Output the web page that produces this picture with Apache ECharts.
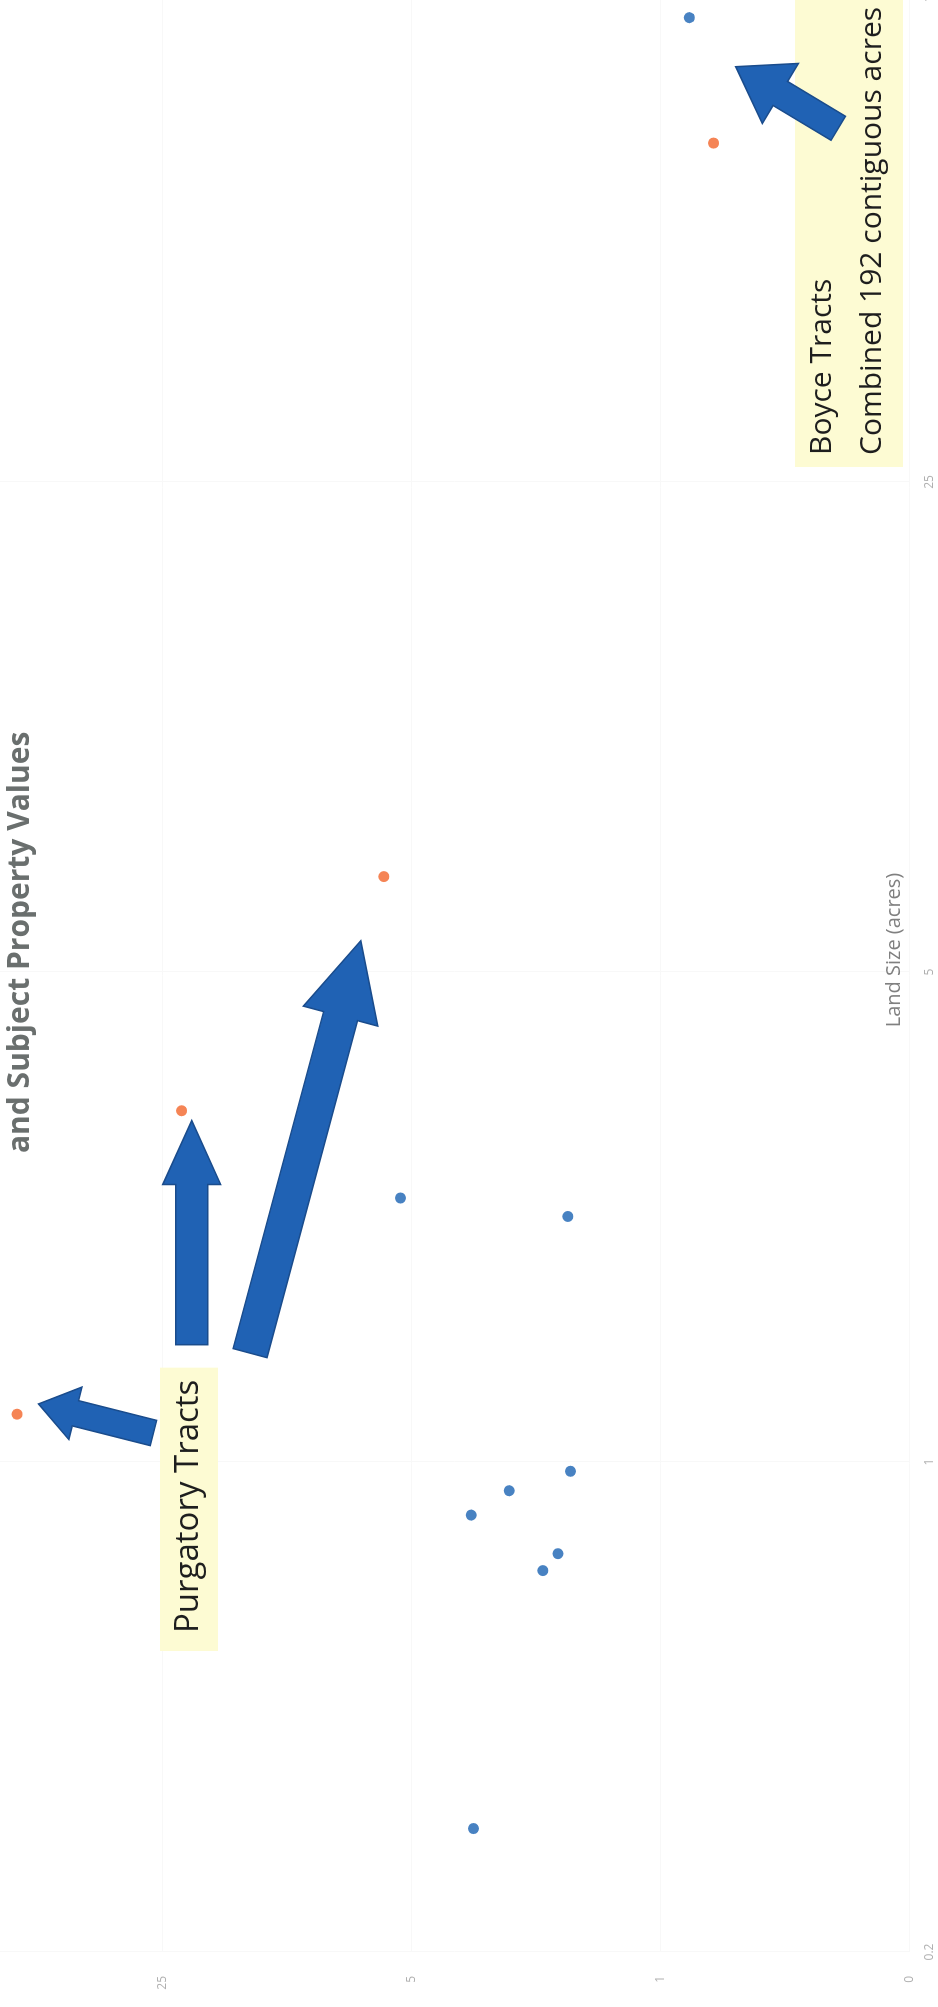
<!DOCTYPE html>
<html>
<head>
<meta charset="utf-8">
<script src="https://cdn.jsdelivr.net/npm/echarts@6/dist/echarts.min.js"></script>
<style>
html,body{margin:0;padding:0;background:#fff;overflow:hidden;width:938px;height:2007px;}
#chart{position:absolute;left:0;top:0;width:2007px;height:938px;transform-origin:0 0;transform:translateY(2007px) rotate(-90deg);}
</style>
</head>
<body>
<div id="chart"></div>
<script>
// ---- data ----
var titleText = 'and Subject Property Values';
var xAxisName = 'Land Size (acres)';
var seriesNames = ['Sales (San Juan County)', 'Sales (La Plata County Purgatory area)'];
var xTicks = [0.2, 1, 5, 25, 125];
var yTicks = [0.2, 1, 5, 25, 125];
var xTickLabels = ['0.2', '1', '5', '25', '125'];
var yTickLabels = ['0', '1', '5', '25', '125'];
// [land size (acres), value]
var sanJuanSales = [
  [114.9, 0.83],
  [0.30, 3.35],
  [0.84, 3.40],
  [0.91, 2.66],
  [0.70, 2.14],
  [0.74, 1.94],
  [0.97, 1.79],
  [2.24, 1.82],
  [2.38, 5.37]
];
var laPlataSales = [
  [1.17, 64.0],
  [3.17, 22.1],
  [6.84, 5.98],
  [76.1, 0.71]
];
// annotation arrows: from / to in data coordinates
var arrowFrom = [[1.10, 26.5], [1.47, 20.7], [1.43, 14.2], [79.9, 0.317]];
var arrowTo   = [[1.21, 55.7], [3.07, 20.7], [5.54, 6.94], [97.8, 0.615]];
var annotationTexts = ['Purgatory Tracts', 'Boyce Tracts\nCombined 192 contiguous acres'];

// ---- chart ----
var chart = echarts.init(document.getElementById('chart'), null, {width: 2007, height: 938});
var blue = '#1a63b3', orange = '#f2652a';
function fmt(ticks, labels) {
  return function (v) {
    for (var i = 0; i < ticks.length; i++) {
      if (Math.abs(v - ticks[i]) / ticks[i] < 1e-6) return labels[i];
    }
    return '';
  };
}
chart.setOption({
  animation: false,
  backgroundColor: '#fff',
  title: {
    text: titleText,
    left: 849, top: 0,
    textStyle: {fontFamily: 'Open Sans', fontSize: 30, fontWeight: 'bold', color: '#6a6f6e'}
  },
  legend: {
    orient: 'vertical', left: 1803, top: 796, z: 2,
    itemWidth: 8, itemHeight: 8, itemGap: 22, icon: 'circle',
    textStyle: {fontFamily: 'Open Sans', fontSize: 13, color: '#8a8a8a'},
    data: seriesNames
  },
  grid: {left: 55, top: -86.5, width: 1960, height: 996, outerBoundsMode: 'none', containLabel: false},
  xAxis: {
    type: 'log', logBase: 5, min: 0.2, max: 125,
    name: xAxisName, nameLocation: 'middle', nameGap: -25,
    nameTextStyle: {fontFamily: 'Open Sans', fontSize: 20, color: '#808080', padding: [0, 0, 0, 44]},
    axisLine: {show: false}, axisTick: {show: false},
    axisLabel: {formatter: fmt(xTicks, xTickLabels), fontFamily: 'Open Sans', fontSize: 12, color: '#b0b0b0', margin: 14, showMaxLabel: true},
    splitLine: {show: true, lineStyle: {color: '#f8f8f8', width: 1}}
  },
  yAxis: {
    type: 'log', logBase: 5, min: 0.2, max: 125,
    axisLine: {show: false}, axisTick: {show: false},
    axisLabel: {formatter: fmt(yTicks, yTickLabels), fontFamily: 'Open Sans', fontSize: 12, color: '#b0b0b0', margin: 24},
    splitLine: {show: true, lineStyle: {color: '#f8f8f8', width: 1}}
  },
  series: [
    {name: seriesNames[0], type: 'scatter', data: sanJuanSales, symbolSize: 11, itemStyle: {color: blue}},
    {name: seriesNames[1], type: 'scatter', data: laPlataSales, symbolSize: 11, itemStyle: {color: orange}}
  ]
});

// arrows & labelled boxes (annotations)
var arrowShape = [[26, 54, 38], [32, 58, 64], [35, 77, 78], [28, 70, 52]]; // shaft, head width, head length
function arrowPoints(p0, p1, sw, hw, hl) {
  var dx = p1[0] - p0[0], dy = p1[1] - p0[1];
  var L = Math.sqrt(dx * dx + dy * dy);
  var ux = dx / L, uy = dy / L, nx = -uy, ny = ux;
  var bx = p1[0] - ux * hl, by = p1[1] - uy * hl;
  return [
    [p0[0] + nx * sw / 2, p0[1] + ny * sw / 2],
    [bx + nx * sw / 2, by + ny * sw / 2],
    [bx + nx * hw / 2, by + ny * hw / 2],
    [p1[0], p1[1]],
    [bx - nx * hw / 2, by - ny * hw / 2],
    [bx - nx * sw / 2, by - ny * sw / 2],
    [p0[0] - nx * sw / 2, p0[1] - ny * sw / 2]
  ];
}
var graphics = [];
graphics.push({
  type: 'text', z: 11, left: 356, top: 160,
  style: {text: annotationTexts[0], fontFamily: 'Open Sans', fontSize: 33, fill: '#1e1e1e',
    backgroundColor: '#fdfbd3', padding: [6, 12, 6, 18], lineHeight: 46}
});
graphics.push({
  type: 'text', z: 11, left: 1540, top: 795,
  style: {text: annotationTexts[1], fontFamily: 'Open Sans', fontSize: 30, fill: '#1e1e1e',
    backgroundColor: '#fdfbd3', padding: [2, 10, 6, 12], lineHeight: 50}
});
for (var i = 0; i < arrowFrom.length; i++) {
  var a = chart.convertToPixel({xAxisIndex: 0, yAxisIndex: 0}, arrowFrom[i]);
  var b = chart.convertToPixel({xAxisIndex: 0, yAxisIndex: 0}, arrowTo[i]);
  graphics.push({
    type: 'polygon', z: 12,
    shape: {points: arrowPoints(a, b, arrowShape[i][0], arrowShape[i][1], arrowShape[i][2])},
    style: {fill: '#2062b4', stroke: '#1a4c8c', lineWidth: 1.5}
  });
}
chart.setOption({graphic: graphics});
</script>
</body>
</html>
